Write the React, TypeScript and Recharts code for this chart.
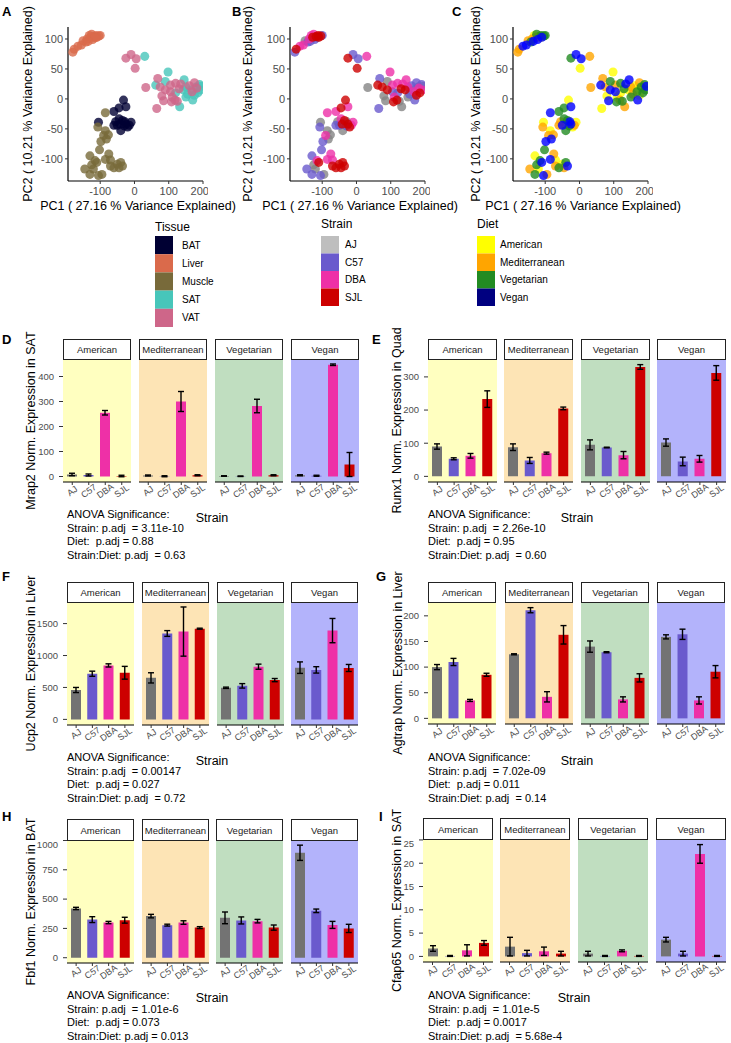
import React from 'react'
import { ScatterChart, Scatter, BarChart, Bar, Cell, ErrorBar, XAxis, YAxis, CartesianGrid } from 'recharts'

const FONT = "'Liberation Sans', Arial, Helvetica, sans-serif"

const tissues = ['BAT', 'Liver', 'Muscle', 'SAT', 'VAT']
const strains = ['AJ', 'C57', 'DBA', 'SJL']
const diets = ['American', 'Mediterranean', 'Vegetarian', 'Vegan']

const tissueColors = ['#000033', '#da6a4b', '#786a3a', '#47c6ba', '#ce6689']
const strainKeyColors = ['#bebebe', '#6a5acd', '#ee30a7', '#cd0000']
const strainPointColors = ['#858585', '#6a5acd', '#ee30a7', '#cd0000']
const strainBarColors = ['#737373', '#6a5acd', '#ee30a7', '#cd0000']
const dietKeyColors = ['#ffff00', '#ffa500', '#228b22', '#000080']
const dietPointColors = ['#ffff00', '#ffa500', '#228b22', '#0000ff']
const dietBgColors = ['#ffffc0', '#fde4b5', '#c0dec0', '#b3b3fb']

type Pt = [number, number, string, string]

// PCA scores: [PC1, PC2, strain, diet]
const pcaBAT: Pt[] = [
  [-32, -2, 'SJL', 'American'], [-25, -13, 'DBA', 'Vegan'], [-45, -15, 'SJL', 'Vegetarian'],
  [-60, -21, 'DBA', 'Vegetarian'], [-105, -39, 'AJ', 'American'], [-60, -44, 'C57', 'Mediterranean'],
  [-50, -44, 'C57', 'Vegan'], [-35, -36, 'SJL', 'Vegetarian'], [-25, -42, 'SJL', 'Vegan'],
  [-20, -47, 'SJL', 'American'], [-45, -33, 'DBA', 'Vegetarian'], [-10, -39, 'DBA', 'American'],
  [-40, -53, 'AJ', 'Vegetarian'], [-55, -38, 'AJ', 'Mediterranean'], [-30, -45, 'C57', 'Vegetarian'],
  [-15, -44, 'DBA', 'Mediterranean'], [-42, -42, 'SJL', 'Mediterranean'], [-28, -38, 'AJ', 'Vegan'],
]
const pcaLiver: Pt[] = [
  [-180, 78, 'C57', 'Mediterranean'], [-176, 83, 'SJL', 'Mediterranean'], [-165, 88, 'DBA', 'Vegan'],
  [-155, 90, 'DBA', 'Vegan'], [-150, 97, 'AJ', 'Mediterranean'], [-142, 95, 'C57', 'Vegetarian'],
  [-138, 100, 'DBA', 'Mediterranean'], [-132, 106, 'DBA', 'American'], [-125, 108, 'DBA', 'Vegetarian'],
  [-122, 99, 'C57', 'Vegan'], [-118, 104, 'SJL', 'American'], [-112, 106, 'SJL', 'Vegetarian'],
  [-110, 103, 'SJL', 'Vegan'], [-104, 105, 'SJL', 'Vegetarian'], [-100, 106, 'C57', 'Vegetarian'],
  [-128, 103, 'SJL', 'Mediterranean'], [-115, 102, 'AJ', 'American'], [-135, 96, 'C57', 'Vegan'],
]
const pcaMuscle: Pt[] = [
  [-85, -23, 'DBA', 'Vegan'], [-107, -47, 'C57', 'Mediterranean'], [-85, -53, 'AJ', 'American'],
  [-90, -61, 'DBA', 'Mediterranean'], [-82, -67, 'AJ', 'Vegan'], [-98, -71, 'C57', 'Vegan'],
  [-76, -60, 'AJ', 'Mediterranean'], [-130, -95, 'C57', 'American'], [-102, -85, 'C57', 'Vegetarian'],
  [-75, -92, 'DBA', 'Mediterranean'], [-85, -101, 'DBA', 'Vegan'], [-110, -106, 'SJL', 'Vegan'],
  [-115, -103, 'DBA', 'Vegetarian'], [-70, -112, 'SJL', 'Mediterranean'], [-50, -109, 'SJL', 'American'],
  [-40, -106, 'SJL', 'Vegetarian'], [-35, -112, 'SJL', 'Vegan'], [-60, -115, 'SJL', 'Vegetarian'],
  [-45, -115, 'SJL', 'Mediterranean'], [-145, -117, 'C57', 'Mediterranean'], [-120, -117, 'AJ', 'American'],
  [-130, -126, 'C57', 'Vegetarian'], [-105, -128, 'C57', 'Vegan'], [-95, -126, 'AJ', 'Mediterranean'],
  [-70, -102, 'DBA', 'American'], [-125, -110, 'AJ', 'Vegetarian'],
]
const pcaSAT: Pt[] = [
  [30, 71, 'DBA', 'Mediterranean'], [98, 45, 'DBA', 'American'], [62, 23, 'SJL', 'Vegan'],
  [90, 29, 'AJ', 'Vegetarian'], [145, 32, 'DBA', 'Vegan'], [190, 24, 'C57', 'Vegetarian'],
  [195, 21, 'AJ', 'Vegan'], [142, 15, 'SJL', 'American'], [175, 6, 'SJL', 'American'],
  [132, -13, 'AJ', 'Mediterranean'], [150, 20, 'DBA', 'Mediterranean'], [165, 15, 'AJ', 'American'],
  [150, 3, 'AJ', 'Vegetarian'], [155, 8, 'C57', 'Mediterranean'], [180, 20, 'AJ', 'Vegetarian'],
  [170, -2, 'C57', 'Vegan'], [185, 10, 'SJL', 'Vegetarian'], [120, 10, 'C57', 'American'],
  [192, 15, 'DBA', 'Vegetarian'],
]
const pcaVAT: Pt[] = [
  [-25, 68, 'SJL', 'Vegetarian'], [-10, 74, 'C57', 'Vegan'], [5, 67, 'C57', 'Vegan'],
  [2, 51, 'SJL', 'American'], [33, 19, 'AJ', 'Mediterranean'], [65, -16, 'C57', 'American'],
  [68, 34, 'C57', 'Mediterranean'], [75, 20, 'SJL', 'Mediterranean'], [120, 26, 'DBA', 'Vegetarian'],
  [175, 27, 'C57', 'Mediterranean'], [130, 17, 'SJL', 'Vegetarian'], [85, -3, 'AJ', 'Vegan'],
  [108, -5, 'SJL', 'Vegetarian'], [125, -4, 'AJ', 'Vegetarian'], [105, 12, 'C57', 'Vegan'],
  [110, 3, 'DBA', 'American'], [90, 15, 'SJL', 'Vegan'], [105, 23, 'DBA', 'Mediterranean'],
  [118, -2, 'SJL', 'Mediterranean'], [80, 5, 'AJ', 'American'], [135, 25, 'DBA', 'Vegan'],
  [160, 22, 'C57', 'American'], [168, 12, 'DBA', 'Vegetarian'], [182, 18, 'DBA', 'American'],
]
const pcaByTissue = [pcaBAT, pcaLiver, pcaMuscle, pcaSAT, pcaVAT]

// bar means / sd: rows = diets, columns = strains
const mrap2Mean = [[8, 6, 255, 2], [4, 1, 300, 5], [2, 1, 282, 5], [5, 3, 447, 48]]
const mrap2Err = [[5, 4, 9, 3], [2, 2, 40, 2], [1, 1, 27, 2], [2, 2, 3, 48]]
const mrap2Anova = ['Strain: p.adj  = 3.11e-10', 'Diet:  p.adj = 0.88', 'Strain:Diet: p.adj  = 0.63']

const runx1Mean = [[90, 53, 62, 233], [88, 48, 70, 205], [95, 87, 64, 330], [102, 45, 53, 312]]
const runx1Err = [[8, 3, 7, 25], [10, 9, 3, 4], [15, 1, 11, 7], [11, 13, 10, 22]]
const runx1Anova = ['Strain: p.adj  = 2.26e-10', 'Diet:  p.adj = 0.95', 'Strain:Diet: p.adj  = 0.60']

const ucp2Mean = [[460, 715, 845, 730], [650, 1345, 1375, 1420], [495, 525, 825, 615], [810, 775, 1390, 805]]
const ucp2Err = [[40, 40, 25, 100], [80, 45, 385, 8], [10, 35, 40, 25], [90, 50, 190, 55]]
const ucp2Anova = ['Strain: p.adj  = 0.00147', 'Diet:  p.adj = 0.027', 'Strain:Diet: p.adj  = 0.72']

const agtrapMean = [[100, 110, 35, 85], [125, 211, 42, 163], [140, 129, 37, 79], [159, 164, 35, 91]]
const agtrapErr = [[5, 7, 2, 3], [1, 5, 10, 18], [11, 1, 5, 8], [4, 10, 7, 12]]
const agtrapAnova = ['Strain: p.adj  = 7.02e-09', 'Diet:  p.adj = 0.011', 'Strain:Diet: p.adj  = 0.14']

const fbf1Mean = [[420, 325, 300, 320], [355, 278, 300, 257], [340, 318, 312, 257], [895, 400, 280, 250]]
const fbf1Err = [[10, 25, 10, 25], [15, 8, 15, 8], [50, 30, 15, 22], [65, 15, 30, 35]]
const fbf1Anova = ['Strain: p.adj  = 1.01e-6', 'Diet:  p.adj = 0.073', 'Strain:Diet: p.adj = 0.013']

const cfap65Mean = [[1.7, 0.1, 1.3, 2.9], [2.1, 0.7, 1.1, 0.6], [0.6, 0.1, 1.2, 0.1], [3.6, 0.6, 22, 0.1]]
const cfap65Err = [[0.6, 0.1, 1.2, 0.5], [2.0, 0.6, 0.9, 0.5], [0.5, 0.1, 0.2, 0.1], [0.5, 0.5, 2, 0.1]]
const cfap65Anova = ['Strain: p.adj  = 1.01e-5', 'Diet:  p.adj = 0.0017', 'Strain:Diet: p.adj  = 5.68e-4']

const toXY = (p: Pt) => ({ x: p[0], y: p[1] })
const allPts = pcaByTissue.flat()

const pcaPanels = [
  { letter: 'A', letterX: 2, offset: 0, ylabX: 28, groups: tissues.map((t, i) => ({ name: t, color: tissueColors[i], pts: pcaByTissue[i].map(toXY) })) },
  { letter: 'B', letterX: 232, offset: 222, ylabX: 248, groups: strains.map((s, i) => ({ name: s, color: strainPointColors[i], pts: allPts.filter(p => p[2] === s).map(toXY) })) },
  { letter: 'C', letterX: 452, offset: 445, ylabX: 476, groups: diets.map((d, i) => ({ name: d, color: dietPointColors[i], pts: allPts.filter(p => p[3] === d).map(toXY) })) },
]

const barPanels = [
  { letter: 'D', letterX: 2, letterY: 344, ylab: 'Mrap2 Norm. Expression in SAT', ylabX: 31, lefts: [63, 139, 215, 291], facetW: 68, stripTop: 339, plotTop: 359, plotBottom: 482, domain: [-22, 470], ticks: [0, 100, 200, 300, 400], means: mrap2Mean, errs: mrap2Err, strainX: 212, strainY: 522, anovaX: 67, anovaY: 518, anova: mrap2Anova },
  { letter: 'E', letterX: 372, letterY: 344, ylab: 'Runx1 Norm. Expression in Quad', ylabX: 397, lefts: [428, 504, 581, 657], facetW: 69, stripTop: 339, plotTop: 359, plotBottom: 482, domain: [-17, 354], ticks: [0, 100, 200, 300], means: runx1Mean, errs: runx1Err, strainX: 577, strainY: 522, anovaX: 428, anovaY: 518, anova: runx1Anova },
  { letter: 'F', letterX: 2, letterY: 581, ylab: 'Ucp2 Norm. Expression in Liver', ylabX: 31, lefts: [67, 142, 217, 291], facetW: 67, stripTop: 582, plotTop: 602, plotBottom: 725, domain: [-88, 1838], ticks: [0, 500, 1000, 1500], means: ucp2Mean, errs: ucp2Err, strainX: 212, strainY: 765, anovaX: 67, anovaY: 761, anova: ucp2Anova },
  { letter: 'G', letterX: 376, letterY: 581, ylab: 'Agtrap Norm. Expression in Liver', ylabX: 398, lefts: [428, 505, 581, 657], facetW: 68, stripTop: 582, plotTop: 602, plotBottom: 724, domain: [-11, 227], ticks: [0, 50, 100, 150, 200], means: agtrapMean, errs: agtrapErr, strainX: 577, strainY: 765, anovaX: 428, anovaY: 761, anova: agtrapAnova },
  { letter: 'H', letterX: 2, letterY: 821, ylab: 'Fbf1 Norm. Expression in BAT', ylabX: 31, lefts: [67, 142, 216, 291], facetW: 67, stripTop: 819, plotTop: 840, plotBottom: 963, domain: [-45, 1004], ticks: [0, 250, 500, 750, 1000], means: fbf1Mean, errs: fbf1Err, strainX: 212, strainY: 1002, anovaX: 67, anovaY: 999, anova: fbf1Anova },
  { letter: 'I', letterX: 379, letterY: 821, ylab: 'Cfap65 Norm. Expression in SAT', ylabX: 397, lefts: [423, 500, 578, 656], facetW: 70, stripTop: 818, plotTop: 839, plotBottom: 962, domain: [-1.2, 25.2], ticks: [0, 5, 10, 15, 20, 25], means: cfap65Mean, errs: cfap65Err, strainX: 574, strainY: 1002, anovaX: 428, anovaY: 999, anova: cfap65Anova },
]

const legends = [
  { title: 'Tissue', x: 155, titleY: 231, keysTop: 236, keyH: 18.2, labelX: 182, labels: tissues, colors: tissueColors },
  { title: 'Strain', x: 321, titleY: 228, keysTop: 236, keyH: 17.5, labelX: 345, labels: strains, colors: strainKeyColors },
  { title: 'Diet', x: 477, titleY: 228, keysTop: 236, keyH: 17.5, labelX: 500, labels: diets, colors: dietKeyColors },
]

const tickStyle = { fontSize: 11, fill: '#4d4d4d' }

function PcaPanel({ offset, groups }: { offset: number; groups: { name: string; color: string; pts: { x: number; y: number }[] }[] }) {
  const yW = 40
  const plotW = 135
  const plotH = 154
  return (
    <div style={{ position: 'absolute', left: 68 + offset - yW, top: 22 }}>
      <ScatterChart width={yW + plotW + 5} height={5 + plotH + 20} margin={{ top: 5, right: 5, bottom: 0, left: 0 }}>
        <XAxis type="number" dataKey="x" domain={[-194, 200]} ticks={[-100, 0, 100, 200]} allowDataOverflow height={20}
          axisLine={{ stroke: '#000', strokeWidth: 1.2 }} tickLine={{ stroke: '#333' }} tickSize={3} tickMargin={3} tick={tickStyle} />
        <YAxis type="number" dataKey="y" domain={[-137, 120]} ticks={[-100, -50, 0, 50, 100]} allowDataOverflow width={yW}
          axisLine={{ stroke: '#000', strokeWidth: 1.2 }} tickLine={{ stroke: '#333' }} tickSize={3} tickMargin={2} tick={tickStyle} />
        {groups.map(g => (
          <Scatter key={g.name} name={g.name} data={g.pts} fill={g.color} fillOpacity={0.8} isAnimationActive={false} />
        ))}
      </ScatterChart>
    </div>
  )
}

function StrainTick(props: any) {
  const { x, y, payload } = props
  const cy = y + 4
  return (
    <text x={x} y={cy} transform={`rotate(-35, ${x}, ${cy})`} textAnchor="middle" dominantBaseline="central" fontSize={9} fill="#4d4d4d">
      {payload.value}
    </text>
  )
}

function BarFacets(p: typeof barPanels[number]) {
  const plotH = p.plotBottom - p.plotTop
  return (
    <>
      {diets.map((d, i) => {
        const rows = strains.map((s, j) => ({ strain: s, value: p.means[i][j], err: p.errs[i][j] }))
        const first = i === 0
        const yW = first ? 40 : 0
        return (
          <React.Fragment key={d}>
            <div style={{ position: 'absolute', left: p.lefts[i] - yW, top: p.plotTop }}>
              <BarChart width={p.facetW + yW} height={plotH + 22} data={rows} margin={{ top: 0, right: 0, bottom: 0, left: 0 }}>
                <CartesianGrid horizontal={false} vertical={false} fill={dietBgColors[i]} fillOpacity={1} />
                <XAxis dataKey="strain" type="category" height={22} padding={{ left: 1, right: 1 }} interval={0}
                  axisLine={{ stroke: '#000', strokeWidth: 1.2 }} tickLine={{ stroke: '#333' }} tickSize={3} tickMargin={2} tick={<StrainTick />} />
                <YAxis type="number" hide={!first} width={yW} domain={p.domain} ticks={p.ticks} allowDataOverflow
                  axisLine={false} tickLine={{ stroke: '#333' }} tickSize={4} tickMargin={5} tick={{ fontSize: 9.5, fill: '#4d4d4d' }} />
                <Bar dataKey="value" barSize={10} isAnimationActive={false}>
                  {rows.map((r, j) => <Cell key={r.strain} fill={strainBarColors[j]} />)}
                  <ErrorBar dataKey="err" width={3} strokeWidth={1.4} stroke="#000" />
                </Bar>
              </BarChart>
            </div>
            <div style={{
              position: 'absolute', left: p.lefts[i], top: p.stripTop, width: p.facetW, height: p.plotTop - p.stripTop + 1,
              boxSizing: 'border-box', border: '1.3px solid #222', background: '#fff',
              display: 'flex', alignItems: 'center', justifyContent: 'center', fontSize: 9.5, color: '#1a1a1a',
            }}>
              {d}
            </div>
          </React.Fragment>
        )
      })}
    </>
  )
}

export default function App() {
  return (
    <div style={{ position: 'absolute', left: 0, top: 0, width: 731, height: 1043, background: '#fff', fontFamily: FONT, overflow: 'hidden' }}>
      {pcaPanels.map(pp => <PcaPanel key={pp.letter} offset={pp.offset} groups={pp.groups} />)}
      {barPanels.map(bp => <BarFacets key={bp.letter} {...bp} />)}
      <svg width={731} height={1043} style={{ position: 'absolute', left: 0, top: 0, pointerEvents: 'none' }} fontFamily={FONT}>
        {pcaPanels.map(pp => (
          <g key={pp.letter}>
            <text x={pp.letterX} y={16} fontSize={13} fontWeight="bold">{pp.letter}</text>
            <text x={138 + pp.offset} y={210} fontSize={12.5} textAnchor="middle">PC1 ( 27.16 % Variance Explained)</text>
            <text x={pp.ylabX} y={104} fontSize={12.5} textAnchor="middle" dominantBaseline="central" transform={`rotate(-90, ${pp.ylabX}, 104)`}>
              PC2 ( 10.21 % Variance Explained)
            </text>
          </g>
        ))}
        {legends.map(lg => (
          <g key={lg.title}>
            <text x={lg.x} y={lg.titleY} fontSize={12}>{lg.title}</text>
            {lg.labels.map((lab, i) => (
              <g key={lab}>
                <rect x={lg.x} y={lg.keysTop + i * lg.keyH} width={18} height={lg.keyH} fill={lg.colors[i]} />
                <text x={lg.labelX} y={lg.keysTop + i * lg.keyH + lg.keyH / 2} fontSize={10} dominantBaseline="central">{lab}</text>
              </g>
            ))}
          </g>
        ))}
        {barPanels.map(bp => {
          const cy = (bp.plotTop + bp.plotBottom) / 2
          return (
            <g key={bp.letter}>
              <text x={bp.letterX} y={bp.letterY} fontSize={13} fontWeight="bold">{bp.letter}</text>
              <text x={bp.ylabX} y={cy} fontSize={12.5} textAnchor="middle" dominantBaseline="central" transform={`rotate(-90, ${bp.ylabX}, ${cy})`}>
                {bp.ylab}
              </text>
              <text x={bp.strainX} y={bp.strainY} fontSize={12.5} textAnchor="middle">Strain</text>
              {['ANOVA Significance:', ...bp.anova].map((line, k) => (
                <text key={k} x={bp.anovaX} y={bp.anovaY + k * 13.5} fontSize={11} style={{ whiteSpace: 'pre' }}>{line}</text>
              ))}
            </g>
          )
        })}
      </svg>
    </div>
  )
}
